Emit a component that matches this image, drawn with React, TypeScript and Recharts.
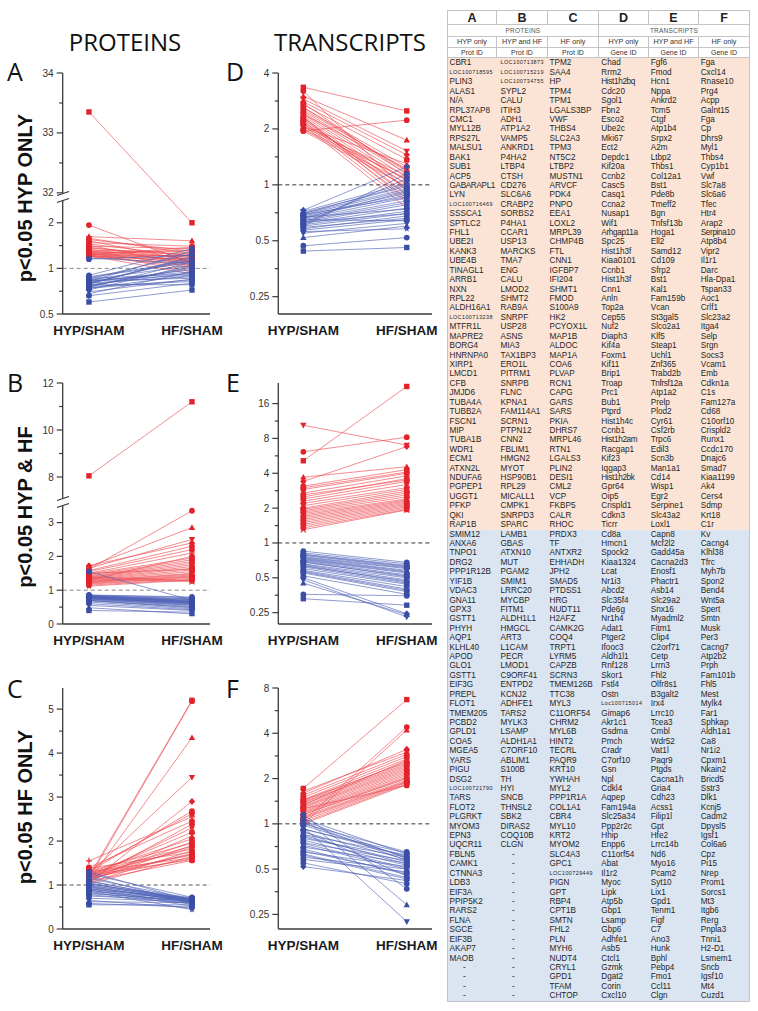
import React from 'react'
import { LineChart, Line, XAxis, YAxis, ReferenceLine } from 'recharts'

const xCategories = ['HYP/SHAM', 'HF/SHAM']

// A: proteins, p<0.05 HYP only
const aUpHyp = [33.35, 1.93, 1.62, 1.58, 1.55, 1.52, 1.48, 1.45, 1.42, 1.40, 1.38, 1.36, 1.34, 1.32, 1.30, 1.30, 1.29, 1.28, 1.27, 1.26, 1.25, 1.25, 1.24, 1.23, 1.22, 1.22, 1.21, 1.20, 1.20, 1.19]
const aUpHf = [2.0, 1.08, 1.52, 1.25, 1.30, 1.12, 1.40, 1.20, 1.05, 1.35, 1.15, 1.22, 1.10, 1.28, 1.18, 1.02, 1.25, 1.12, 0.95, 1.32, 1.08, 1.20, 1.15, 1.00, 1.38, 1.10, 0.92, 1.22, 1.05, 1.15]
const aDownHyp = [0.60, 0.66, 0.68, 0.70, 0.72, 0.74, 0.75, 0.76, 0.77, 0.78, 0.79, 0.80, 0.80, 0.81, 0.82, 0.83, 0.84, 0.85, 0.86, 0.88, 0.90, 0.78, 0.76, 0.82, 1.15, 1.17, 0.74, 0.79, 0.84, 0.87]
const aDownHf = [0.72, 0.80, 0.95, 0.85, 1.05, 0.90, 1.10, 0.82, 1.00, 0.93, 1.20, 0.88, 1.15, 0.98, 1.30, 0.86, 1.05, 1.25, 0.92, 1.12, 1.35, 0.78, 1.02, 0.95, 1.22, 1.08, 0.84, 1.18, 0.90, 1.10]
const aMajor = [0.5, 1, 2, 32, 33, 34]
const aMinor = [0.707, 1.414, 32.5, 33.5]

// B: proteins, p<0.05 HYP & HF
const bUpHyp = [8.05, 1.62, 1.70, 1.65, 1.72, 1.58, 1.55, 1.50, 1.48, 1.45, 1.42, 1.40, 1.38, 1.36, 1.34, 1.32, 1.30, 1.28, 1.26, 1.25, 1.24, 1.22, 1.20, 1.18, 1.15, 1.12, 1.40, 1.35, 1.30, 1.50]
const bUpHf = [11.2, 3.35, 2.85, 2.50, 2.40, 2.30, 2.20, 2.10, 1.95, 1.90, 1.85, 1.80, 1.75, 1.70, 1.65, 1.60, 1.55, 1.50, 1.48, 1.45, 1.42, 1.40, 1.38, 1.35, 1.32, 1.30, 1.28, 1.25, 2.00, 1.62]
const bDownHyp = [0.40, 1.55, 0.48, 0.55, 0.60, 0.65, 0.68, 0.70, 0.72, 0.74, 0.75, 0.76, 0.77, 0.78, 0.79, 0.80, 0.80, 0.81, 0.82, 0.82, 0.83, 0.84, 0.85, 0.86, 0.78, 0.74, 0.70, 0.80, 0.83, 0.76]
const bDownHf = [0.35, 0.70, 0.30, 0.40, 0.42, 0.45, 0.50, 0.52, 0.55, 0.58, 0.60, 0.62, 0.63, 0.64, 0.65, 0.66, 0.67, 0.68, 0.70, 0.72, 0.74, 0.75, 0.78, 0.80, 0.60, 0.56, 0.48, 0.70, 0.66, 0.62]
const bMajor = [0, 1, 2, 3, 8, 10, 12]
const bMinor = [0.5, 1.5, 2.5, 9, 11]

// C: proteins, p<0.05 HF only
const cUpHyp = [1.20, 1.15, 1.10, 1.25, 1.05, 1.30, 1.35, 1.55, 1.40, 1.12, 1.18, 1.22, 1.08, 1.28, 1.15, 1.32, 1.10, 1.20, 1.25, 1.05, 1.38, 1.14, 1.18, 1.24, 1.02, 1.30, 1.16, 1.22, 1.09, 1.27]
const cUpHf = [5.20, 5.18, 4.35, 3.45, 2.90, 2.68, 2.62, 2.55, 2.45, 2.38, 2.30, 2.20, 2.12, 2.05, 1.98, 1.95, 1.90, 1.85, 1.82, 1.78, 1.75, 1.72, 1.70, 1.68, 1.65, 1.62, 1.60, 1.58, 1.56, 1.88]
const cDownHyp = [0.55, 0.58, 0.62, 0.65, 0.70, 0.75, 0.78, 0.80, 0.82, 0.85, 0.88, 0.90, 0.92, 0.94, 0.96, 0.98, 1.00, 1.02, 1.05, 1.08, 1.10, 1.15, 1.20, 1.25, 1.30, 0.86, 0.92, 0.97, 1.03, 0.89]
const cDownHf = [0.55, 0.50, 0.60, 0.48, 0.62, 0.65, 0.58, 0.66, 0.63, 0.68, 0.60, 0.70, 0.64, 0.67, 0.62, 0.69, 0.65, 0.71, 0.60, 0.66, 0.63, 0.68, 0.58, 0.72, 0.64, 0.44, 0.56, 0.61, 0.67, 0.52]
const cMajor = [0, 1, 2, 3, 4, 5]
const cMinor = [0.5, 1.5, 2.5, 3.5, 4.5]

// D: transcripts, p<0.05 HYP only
const dUpHyp = [3.35, 1.95, 3.00, 2.90, 2.80, 2.70, 2.60, 2.55, 2.50, 2.45, 2.40, 2.35, 2.30, 2.25, 2.20, 2.15, 2.10, 2.05, 2.00, 1.98, 1.95, 3.20, 2.62, 2.28, 2.12, 2.40, 2.18, 2.06, 2.75, 2.32]
const dUpHf = [2.50, 2.23, 1.74, 1.52, 1.45, 1.37, 1.25, 1.20, 1.15, 1.10, 1.05, 1.00, 0.95, 0.90, 0.85, 0.80, 0.75, 1.12, 1.08, 1.02, 0.98, 0.92, 1.18, 0.88, 1.06, 1.22, 0.96, 1.30, 1.14, 0.82]
const dDownHyp = [0.44, 0.47, 0.52, 0.55, 0.57, 0.58, 0.60, 0.61, 0.62, 0.63, 0.64, 0.65, 0.66, 0.67, 0.68, 0.69, 0.70, 0.71, 0.72, 0.73, 0.60, 0.62, 0.65, 0.67, 0.69, 0.56, 0.63, 0.66, 0.70, 0.59]
const dDownHf = [0.46, 0.52, 0.60, 0.62, 0.65, 0.68, 0.70, 0.72, 0.75, 0.78, 0.80, 0.82, 0.85, 0.88, 0.90, 0.93, 0.95, 0.98, 1.02, 1.25, 1.15, 1.08, 0.64, 0.74, 0.86, 0.58, 0.70, 0.92, 1.00, 0.66]
const dMajor = [0.25, 0.5, 1, 2, 4]
const dMinor = [0.354, 0.707, 1.414, 2.828]

// E: transcripts, p<0.05 HYP & HF
const eUpHyp = [5.13, 6.13, 3.70, 10.4, 3.40, 3.10, 2.90, 2.70, 2.50, 2.40, 2.30, 2.20, 2.10, 2.00, 1.95, 1.90, 1.85, 1.80, 1.75, 1.70, 1.65, 1.60, 1.55, 1.50, 1.45, 1.40, 1.35, 1.30, 2.60, 3.00]
const eUpHf = [22.5, 8.2, 4.56, 7.0, 6.8, 4.30, 4.00, 3.80, 3.60, 3.40, 3.20, 3.00, 2.90, 2.80, 2.70, 2.60, 2.50, 2.40, 2.35, 2.30, 2.25, 2.20, 2.15, 2.10, 2.05, 2.00, 1.95, 1.93, 3.50, 4.10]
const eDownHyp = [0.33, 0.36, 0.45, 0.48, 0.50, 0.52, 0.55, 0.57, 0.58, 0.60, 0.62, 0.63, 0.65, 0.66, 0.68, 0.70, 0.71, 0.72, 0.74, 0.75, 0.76, 0.78, 0.80, 0.82, 0.85, 0.64, 0.69, 0.73, 0.56, 0.79]
const eDownHf = [0.29, 0.35, 0.24, 0.23, 0.245, 0.36, 0.38, 0.40, 0.42, 0.44, 0.45, 0.47, 0.48, 0.50, 0.52, 0.53, 0.55, 0.56, 0.58, 0.60, 0.61, 0.62, 0.64, 0.66, 0.68, 0.46, 0.51, 0.57, 0.39, 0.63]
const eMajor = [0.25, 0.5, 1, 2, 4, 8, 16]
const eMinor = [0.354, 0.707, 1.414, 2.828, 5.657, 11.31]

// F: transcripts, p<0.05 HF only
const fUpHyp = [1.72, 1.05, 1.00, 1.65, 1.60, 1.55, 1.50, 1.45, 1.42, 1.40, 1.38, 1.35, 1.32, 1.30, 1.28, 1.25, 1.22, 1.20, 1.18, 1.15, 1.12, 1.10, 1.08, 1.05, 1.02, 1.00, 1.26, 1.34, 1.44, 1.16]
const fUpHf = [6.70, 4.40, 4.20, 3.00, 3.13, 2.90, 2.80, 2.70, 2.60, 2.50, 2.45, 2.40, 2.35, 2.30, 2.25, 2.20, 2.15, 2.10, 2.05, 2.00, 1.95, 1.92, 1.90, 1.88, 1.85, 1.82, 1.80, 2.65, 2.55, 2.02]
const fDownHyp = [0.90, 1.15, 1.10, 0.95, 0.52, 0.55, 0.58, 0.60, 0.63, 0.65, 0.68, 0.70, 0.72, 0.75, 0.78, 0.80, 0.82, 0.85, 0.88, 0.92, 0.98, 1.00, 1.05, 1.08, 0.66, 0.74, 0.84, 0.93, 1.02, 0.62]
const fDownHf = [0.45, 0.37, 0.29, 0.224, 0.42, 0.40, 0.48, 0.50, 0.44, 0.52, 0.46, 0.55, 0.50, 0.57, 0.53, 0.60, 0.56, 0.62, 0.58, 0.64, 0.60, 0.65, 0.59, 0.63, 0.47, 0.51, 0.54, 0.61, 0.57, 0.43]
const fMajor = [0.25, 0.5, 1, 2, 4, 8]
const fMinor = [0.354, 0.707, 1.414, 2.828, 5.657]

// table columns (upper half = up-regulated, lower half = down-regulated)
const protHypUp = ['CBR1', 'LOC100718595', 'PLIN3', 'ALAS1', 'N/A', 'RPL37AP8', 'CMC1', 'MYL12B', 'RPS27L', 'MALSU1', 'BAK1', 'SUB1', 'ACP5', 'GABARAPL1', 'LYN', 'LOC100716469', 'SSSCA1', 'SPTLC2', 'FHL1', 'UBE2I', 'KANK3', 'UBE4B', 'TINAGL1', 'ARRB1', 'NXN', 'RPL22', 'ALDH16A1', 'LOC100713238', 'MTFR1L', 'MAPRE2', 'BORG4', 'HNRNPA0', 'XIRP1', 'LMCD1', 'CFB', 'JMJD6', 'TUBA4A', 'TUBB2A', 'FSCN1', 'MIP', 'TUBA1B', 'WDR1', 'ECM1', 'ATXN2L', 'NDUFA6', 'PGPEP1', 'UGGT1', 'PFKP', 'QKI', 'RAP1B']
const protHypDown = ['SMIM12', 'ANXA6', 'TNPO1', 'DRG2', 'PPP1R12B', 'YIF1B', 'VDAC3', 'GNA11', 'GPX3', 'GSTT1', 'PHYH', 'AQP1', 'KLHL40', 'APOD', 'GLO1', 'GSTT1', 'EIF3G', 'PREPL', 'FLOT1', 'TMEM205', 'PCBD2', 'GPLD1', 'COA5', 'MGEA5', 'YARS', 'PIGU', 'DSG2', 'LOC100721790', 'TARS', 'FLOT2', 'PLGRKT', 'MYOM3', 'EPN3', 'UQCR11', 'FBLN5', 'CAMK1', 'CTNNA3', 'LDB3', 'EIF3A', 'PPIP5K2', 'RARS2', 'FLNA', 'SGCE', 'EIF3B', 'AKAP7', 'MAOB', '-', '-', '-', '-']
const protBothUp = ['LOC100713873', 'LOC100715219', 'LOC100734755', 'SYPL2', 'CALU', 'ITIH3', 'ADH1', 'ATP1A2', 'VAMP5', 'ANKRD1', 'P4HA2', 'LTBP4', 'CTSH', 'CD276', 'SLC6A6', 'CRABP2', 'SORBS2', 'P4HA1', 'CCAR1', 'USP13', 'MARCKS', 'TMA7', 'ENG', 'CALU', 'LMOD2', 'SHMT2', 'RAB9A', 'SNRPF', 'USP28', 'ASNS', 'MIA3', 'TAX1BP3', 'ERO1L', 'PITRM1', 'SNRPB', 'FLNC', 'KPNA1', 'FAM114A1', 'SCRN1', 'PTPN12', 'CNN2', 'FBLIM1', 'HMGN2', 'MYOT', 'HSP90B1', 'RPL29', 'MICALL1', 'CMPK1', 'SNRPD3', 'SPARC']
const protBothDown = ['LAMB1', 'GBAS', 'ATXN10', 'MUT', 'PGAM2', 'SMIM1', 'LRRC20', 'MYCBP', 'FITM1', 'ALDH1L1', 'HMGCL', 'ART3', 'L1CAM', 'PECR', 'LMOD1', 'C9ORF41', 'ENTPD2', 'KCNJ2', 'ADHFE1', 'TARS2', 'MYLK3', 'LSAMP', 'ALDH1A1', 'C7ORF10', 'ABLIM1', 'S100B', 'TH', 'HYI', 'SNCB', 'THNSL2', 'SBK2', 'DIRAS2', 'COQ10B', 'CLGN', '-', '-', '-', '-', '-', '-', '-', '-', '-', '-', '-', '-', '-', '-', '-', '-']
const protHfUp = ['TPM2', 'SAA4', 'HP', 'TPM4', 'TPM1', 'LGALS3BP', 'VWF', 'THBS4', 'SLC2A3', 'TPM3', 'NT5C2', 'LTBP2', 'MUSTN1', 'ARVCF', 'PDK4', 'PNPO', 'EEA1', 'LOXL2', 'MRPL39', 'CHMP4B', 'FTL', 'CNN1', 'IGFBP7', 'IFI204', 'SHMT1', 'FMOD', 'S100A9', 'HK2', 'PCYOX1L', 'MAP1B', 'ALDOC', 'MAP1A', 'COA6', 'PLVAP', 'RCN1', 'CAPG', 'GARS', 'SARS', 'PKIA', 'DHRS7', 'MRPL46', 'RTN1', 'LGALS3', 'PLIN2', 'DESI1', 'CML2', 'VCP', 'FKBP5', 'CALR', 'RHOC']
const protHfDown = ['PRDX3', 'TF', 'ANTXR2', 'EHHADH', 'JPH2', 'SMAD5', 'PTDSS1', 'HRG', 'NUDT11', 'H2AFZ', 'CAMK2G', 'COQ4', 'TRPT1', 'LYRM5', 'CAPZB', 'SCRN3', 'TMEM126B', 'TTC38', 'MYL3', 'C11ORF54', 'CHRM2', 'MYL6B', 'HINT2', 'TECRL', 'PAQR9', 'KRT10', 'YWHAH', 'MYL2', 'PPP1R1A', 'COL1A1', 'CBR4', 'MYL10', 'KRT2', 'MYOM2', 'SLC4A3', 'GPC1', 'LOC100729449', 'PIGN', 'GPT', 'RBP4', 'CPT1B', 'SMTN', 'FHL2', 'PLN', 'MYH6', 'NUDT4', 'CRYL1', 'GPD1', 'TFAM', 'CHTOP']
const geneHypUp = ['Chad', 'Rrm2', 'Hist1h2bq', 'Cdc20', 'Sgol1', 'Fbn2', 'Esco2', 'Ube2c', 'Mki67', 'Ect2', 'Depdc1', 'Kif20a', 'Ccnb2', 'Casc5', 'Casq1', 'Ccna2', 'Nusap1', 'Wif1', 'Arhgap11a', 'Spc25', 'Hist1h3f', 'Kiaa0101', 'Ccnb1', 'Hist1h3f', 'Cnn1', 'Anln', 'Top2a', 'Cep55', 'Nuf2', 'Diaph3', 'Kif4a', 'Foxm1', 'Kif11', 'Brip1', 'Troap', 'Prc1', 'Bub1', 'Ptprd', 'Hist1h4c', 'Ccnb1', 'Hist1h2am', 'Racgap1', 'Kif23', 'Iqgap3', 'Hist1h2bk', 'Gpr64', 'Oip5', 'Crispld1', 'Cdkn3', 'Ticrr']
const geneHypDown = ['Cd8a', 'Hmcn1', 'Spock2', 'Kiaa1324', 'Lcat', 'Nr1i3', 'Abcd2', 'Slc35f4', 'Pde6g', 'Nr1h4', 'Adat1', 'Ptger2', 'Ifooc3', 'Aldh1l1', 'Rnf128', 'Skor1', 'Fstl4', 'Ostn', 'Loc100715014', 'Gimap6', 'Akr1c1', 'Gsdma', 'Pmch', 'Cradr', 'C7orf10', 'Gsn', 'Npl', 'Cdkl4', 'Aqpep', 'Fam194a', 'Slc25a34', 'Ppp2r2c', 'Hhip', 'Enpp6', 'C11orf54', 'Abat', 'Il1r2', 'Myoc', 'Lipk', 'Atp5b', 'Gbp1', 'Lsamp', 'Gbp6', 'Adhfe1', 'Asb5', 'Ctcl1', 'Gzmk', 'Dgat2', 'Corin', 'Cxcl10']
const geneBothUp = ['Fgf6', 'Fmod', 'Hcn1', 'Nppa', 'Ankrd2', 'Tcm5', 'Ctgf', 'Atp1b4', 'Srpx2', 'A2m', 'Ltbp2', 'Thbs1', 'Col12a1', 'Bst1', 'Pde8b', 'Tmeff2', 'Bgn', 'Tnfsf13b', 'Hoga1', 'Ell2', 'Samd12', 'Cd109', 'Sfrp2', 'Bst1', 'Kal1', 'Fam159b', 'Vcan', 'St3gal5', 'Slco2a1', 'Klf5', 'Steap1', 'Uchl1', 'Znf365', 'Trabd2b', 'Tnfrsf12a', 'Atp1a2', 'Prelp', 'Plod2', 'Cyr61', 'Csf2rb', 'Trpc6', 'Edil3', 'Scn3b', 'Man1a1', 'Cd14', 'Wisp1', 'Egr2', 'Serpine1', 'Slc43a2', 'Loxl1']
const geneBothDown = ['Capn8', 'Mcf2l2', 'Gadd45a', 'Cacna2d3', 'Enosf1', 'Phactr1', 'Asb14', 'Slc29a2', 'Snx16', 'Myadml2', 'Fitm1', 'Clip4', 'C2orf71', 'Cetp', 'Lrrn3', 'Fhl2', 'Olfr8s1', 'B3galt2', 'Irx4', 'Lrrc10', 'Tcea3', 'Cmbl', 'Wdr52', 'Vat1l', 'Paqr9', 'Ptgds', 'Cacna1h', 'Gria4', 'Cdh23', 'Acss1', 'Filip1l', 'Gpt', 'Hfe2', 'Lrrc14b', 'Nd6', 'Myo16', 'Pcam2', 'Syt10', 'Lix1', 'Gpd1', 'Tenm1', 'Figf', 'C7', 'Ano3', 'Hunk', 'Bphl', 'Pebp4', 'Fmo1', 'Ccl11', 'Clgn']
const geneHfUp = ['Fga', 'Cxcl14', 'Rnase10', 'Prg4', 'Acpp', 'Galnt15', 'Fga', 'Cp', 'Dhrs9', 'Myl1', 'Thbs4', 'Cyp1b1', 'Vwf', 'Slc7a8', 'Slc6a6', 'Tfec', 'Htr4', 'Arap2', 'Serpina10', 'Atp8b4', 'Vipr2', 'Il1r1', 'Darc', 'Hla-Dpa1', 'Tspan33', 'Aoc1', 'Crlf1', 'Slc23a2', 'Itga4', 'Selp', 'Srgn', 'Socs3', 'Vcam1', 'Emb', 'Cdkn1a', 'C1s', 'Fam127a', 'Cd68', 'C10orf10', 'Crispld2', 'Runx1', 'Ccdc170', 'Dnajc6', 'Smad7', 'Kiaa1199', 'Ak4', 'Cers4', 'Sdmp', 'Krt18', 'C1r']
const geneHfDown = ['Kv', 'Cacng4', 'Klhl38', 'Tfrc', 'Myh7b', 'Spon2', 'Bend4', 'Wnt5a', 'Spert', 'Smtn', 'Musk', 'Per3', 'Cacng7', 'Atp2b2', 'Prph', 'Fam101b', 'Fhl5', 'Mest', 'Mylk4', 'Far1', 'Sphkap', 'Aldh1a1', 'Ca8', 'Nr1i2', 'Cpxm1', 'Nkain2', 'Bricd5', 'Sstr3', 'Dlk1', 'Kcnj5', 'Cadm2', 'Dpysl5', 'Igsf1', 'Col6a6', 'Cpz', 'Pi15', 'Nrep', 'Prom1', 'Sorcs1', 'Mt3', 'Itgb6', 'Rerg', 'Pnpla3', 'Tnni1', 'H2-D1', 'Lsmem1', 'Sncb', 'Igsf10', 'Mt4', 'Cuzd1']

const RED = '#e2232b'
const RED_LINE = '#ee4a51'
const BLUE = '#3a4ea6'
const BLUE_LINE = '#4f61b7'
const AXIS = '#3a3a3a'
const markerCycle = ['square', 'circle', 'triangle', 'triangleDown', 'diamond', 'circle', 'circle', 'cross', 'circle', 'circle', 'star', 'circle', 'x', 'circle', 'circle']

// broken axes: px-like units, log2 below / linear above the break
const brokenA = (v: number) => (v < 10 ? 45.67 * Math.log2(v / 0.5) : 121.3 + 60 * (v - 32))
const brokenB = (v: number) => (v < 5 ? 33.8 * v : 147 + 23.5 * (v - 8))
const same = (v: number) => v

function Marker({ cx, cy, shape, color }: { cx: number; cy: number; shape: string; color: string }) {
  if (cx == null || cy == null) return <g />
  const s = 2.7
  if (shape === 'square') return <rect x={cx - s} y={cy - s} width={s * 2} height={s * 2} fill={color} />
  if (shape === 'triangle')
    return <polygon points={`${cx},${cy - 3.3} ${cx - 3.2},${cy + 2.4} ${cx + 3.2},${cy + 2.4}`} fill={color} />
  if (shape === 'triangleDown')
    return <polygon points={`${cx},${cy + 3.3} ${cx - 3.2},${cy - 2.4} ${cx + 3.2},${cy - 2.4}`} fill={color} />
  if (shape === 'diamond')
    return <polygon points={`${cx},${cy - 3.5} ${cx + 3.2},${cy} ${cx},${cy + 3.5} ${cx - 3.2},${cy}`} fill={color} />
  if (shape === 'cross')
    return (
      <path d={`M${cx - 3},${cy}H${cx + 3}M${cx},${cy - 3}V${cy + 3}`} stroke={color} strokeWidth={1.2} />
    )
  if (shape === 'x')
    return (
      <path d={`M${cx - 2.6},${cy - 2.6}L${cx + 2.6},${cy + 2.6}M${cx - 2.6},${cy + 2.6}L${cx + 2.6},${cy - 2.6}`} stroke={color} strokeWidth={1.2} />
    )
  if (shape === 'star') {
    const pts = []
    for (let k = 0; k < 10; k++) {
      const r = k % 2 === 0 ? 3.6 : 1.5
      const a = -Math.PI / 2 + (k * Math.PI) / 5
      pts.push(`${cx + r * Math.cos(a)},${cy + r * Math.sin(a)}`)
    }
    return <polygon points={pts.join(' ')} fill={color} />
  }
  return <circle cx={cx} cy={cy} r={2.9} fill={color} />
}

type PanelProps = {
  left: number
  top: number
  axisW: number
  plotW: number
  xDomain: [number, number]
  upHyp: number[]
  upHf: number[]
  downHyp: number[]
  downHf: number[]
  f: (v: number) => number
  yDomain: [number, number]
  scale: 'linear' | 'log'
  major: number[]
  minor: number[]
  refColor: string
}

const PLOT_H = 241
const TOP_PAD = 10
const RIGHT_PAD = 24

function Panel(p: PanelProps) {
  const rows = [0, 1].map((x) => {
    const r: Record<string, number> = { x }
    p.upHyp.forEach((v, i) => {
      r['u' + i] = p.f(x === 0 ? v : p.upHf[i])
    })
    p.downHyp.forEach((v, i) => {
      r['d' + i] = p.f(x === 0 ? v : p.downHf[i])
    })
    return r
  })
  const ticks = [...p.major, ...p.minor].map(p.f)
  const yTick = (t: any) => {
    const v = t.payload.value
    const m = p.major.find((k) => Math.abs(p.f(k) - v) < 1e-6)
    const isMajor = m !== undefined
    return (
      <g>
        <line x1={p.axisW - (isMajor ? 6 : 3.5)} x2={p.axisW} y1={t.y} y2={t.y} stroke={AXIS} strokeWidth={1.2} />
        {isMajor && (
          <text x={p.axisW - 9} y={t.y} dy="0.35em" textAnchor="end" fontSize={10} fill="#333" fontFamily="Arial, 'Liberation Sans', sans-serif">
            {m}
          </text>
        )}
      </g>
    )
  }
  const xTick = (t: any) => (
    <text x={t.x} y={TOP_PAD + PLOT_H + 21} textAnchor="middle" fontSize={13.5} fontWeight={700} fill="#1a1a1a" fontFamily="Arial, 'Liberation Sans', sans-serif">
      {xCategories[t.payload.value]}
    </text>
  )
  const dotFn = (i: number, color: string, pre: string) => (d: any) => (
    <Marker key={`${pre}${i}-${d.index}`} cx={d.cx} cy={d.cy} shape={markerCycle[i % markerCycle.length]} color={color} />
  )
  return (
    <div style={{ position: 'absolute', left: p.left, top: p.top - TOP_PAD }}>
      <LineChart
        width={p.axisW + p.plotW + RIGHT_PAD}
        height={TOP_PAD + PLOT_H + 30}
        data={rows}
        margin={{ top: TOP_PAD, right: RIGHT_PAD, bottom: 0, left: 0 }}
      >
        <XAxis
          type="number"
          dataKey="x"
          domain={p.xDomain}
          ticks={[0, 1]}
          interval={0}
          allowDataOverflow
          height={30}
          tickLine={false}
          axisLine={{ stroke: AXIS, strokeWidth: 1.3 }}
          tick={xTick}
        />
        <YAxis
          type="number"
          scale={p.scale}
          domain={p.yDomain}
          allowDataOverflow
          ticks={ticks}
          interval={0}
          width={p.axisW}
          tickLine={false}
          axisLine={{ stroke: AXIS, strokeWidth: 1.3 }}
          tick={yTick}
        />
        <ReferenceLine y={p.f(1)} stroke={p.refColor} strokeDasharray="4 3" strokeWidth={1} />
        {p.upHyp.map((_, i) => (
          <Line
            key={'u' + i}
            dataKey={'u' + i}
            stroke={RED_LINE}
            strokeWidth={0.8}
            strokeOpacity={0.8}
            dot={dotFn(i, RED, 'u')}
            activeDot={false}
            isAnimationActive={false}
          />
        ))}
        {p.downHyp.map((_, i) => (
          <Line
            key={'d' + i}
            dataKey={'d' + i}
            stroke={BLUE_LINE}
            strokeWidth={0.8}
            strokeOpacity={0.8}
            dot={dotFn(i, BLUE, 'd')}
            activeDot={false}
            isAnimationActive={false}
          />
        ))}
      </LineChart>
    </div>
  )
}

function AxisBreak({ x, y }: { x: number; y: number }) {
  return (
    <svg style={{ position: 'absolute', left: x - 7, top: y - 7 }} width={14} height={14}>
      <rect x={4} y={3.5} width={6} height={7} fill="#fff" />
      <line x1={1} y1={5.5} x2={13} y2={1.5} stroke="#333" strokeWidth={1.2} />
      <line x1={1} y1={12.5} x2={13} y2={8.5} stroke="#333" strokeWidth={1.2} />
    </svg>
  )
}

const sans = "Arial, 'Liberation Sans', sans-serif"
const light = "'Open Sans', 'Noto Sans', sans-serif"

function Label({ x, y, text }: { x: number; y: number; text: string }) {
  return (
    <div
      style={{
        position: 'absolute',
        left: x,
        top: y,
        transform: 'translate(-50%, -50%) rotate(-90deg)',
        whiteSpace: 'nowrap',
        fontFamily: sans,
        fontWeight: 700,
        fontSize: 20,
        color: '#111',
      }}
    >
      {text}
    </div>
  )
}

function Text({ x, y, text, size, anchor = 'left' }: { x: number; y: number; text: string; size: number; anchor?: string }) {
  return (
    <div
      style={{
        position: 'absolute',
        left: x,
        top: y,
        transform: anchor === 'center' ? 'translate(-50%, -50%)' : 'translate(0, -50%)',
        whiteSpace: 'nowrap',
        fontFamily: light,
        fontSize: size,
        color: '#111',
        lineHeight: 1,
      }}
    >
      {text}
    </div>
  )
}

const tableCols = [
  { letter: 'A', sub: 'HYP only', id: 'Prot ID', up: protHypUp, down: protHypDown, w: 49, pad: 1.5 },
  { letter: 'B', sub: 'HYP and HF', id: 'Prot ID', up: protBothUp, down: protBothDown, w: 51, pad: 3.5 },
  { letter: 'C', sub: 'HF only', id: 'Prot ID', up: protHfUp, down: protHfDown, w: 51, pad: 1.5 },
  { letter: 'D', sub: 'HYP only', id: 'Gene ID', up: geneHypUp, down: geneHypDown, w: 50, pad: 2.3 },
  { letter: 'E', sub: 'HYP and HF', id: 'Gene ID', up: geneBothUp, down: geneBothDown, w: 50, pad: 1.7 },
  { letter: 'F', sub: 'HF only', id: 'Gene ID', up: geneHfUp, down: geneHfDown, w: 50, pad: 1.7 },
]

const BORDER = '1px solid #c4c4c4'
const ROW_H = 9.435

function GeneTable() {
  const headCell = (w: number, h: number, content: React.ReactNode, style: React.CSSProperties, last: boolean) => (
    <div
      style={{
        width: w,
        height: h,
        boxSizing: 'border-box',
        borderRight: last ? 'none' : BORDER,
        borderBottom: BORDER,
        display: 'flex',
        alignItems: 'center',
        justifyContent: 'center',
        fontFamily: sans,
        color: '#333',
        ...style,
      }}
    >
      {content}
    </div>
  )
  const rowsN = tableCols[0].up.length + tableCols[0].down.length
  return (
    <div style={{ position: 'absolute', left: 447, top: 10, width: 301, border: BORDER, boxSizing: 'content-box' }}>
      <div style={{ display: 'flex' }}>
        {tableCols.map((c, i) => headCell(c.w, 14.3, c.letter, { fontWeight: 700, fontSize: 12.5, color: '#222' }, i === 5))}
      </div>
      <div style={{ display: 'flex' }}>
        {headCell(151, 11.7, 'PROTEINS', { fontSize: 6.5, color: '#555', letterSpacing: 0.2 }, false)}
        {headCell(150, 11.7, 'TRANSCRIPTS', { fontSize: 6.5, color: '#555', letterSpacing: 0.2 }, true)}
      </div>
      <div style={{ display: 'flex' }}>
        {tableCols.map((c, i) => headCell(c.w, 10.7, c.sub, { fontSize: 7.2 }, i === 5))}
      </div>
      <div style={{ display: 'flex' }}>
        {tableCols.map((c, i) => headCell(c.w, 10.8, c.id, { fontSize: 7 }, i === 5))}
      </div>
      {Array.from({ length: rowsN }, (_, r) => {
        const upper = r < tableCols[0].up.length
        return (
          <div key={r} style={{ display: 'flex', height: ROW_H, background: upper ? '#fbe4d5' : '#dbe4f1' }}>
            {tableCols.map((c) => {
              const v = upper ? c.up[r] : c.down[r - c.up.length]
              const small = /^loc/i.test(v)
              const long = !small && v.length >= 9
              return (
                <div
                  key={c.letter}
                  style={{
                    width: c.w,
                    height: ROW_H,
                    lineHeight: `${ROW_H}px`,
                    paddingLeft: v === '-' ? 15 : c.pad,
                    boxSizing: 'border-box',
                    fontFamily: sans,
                    fontSize: small ? 5.4 : 8.2,
                    letterSpacing: small ? 0.45 : long ? -0.35 : 0,
                    color: '#262626',
                    whiteSpace: 'nowrap',
                  }}
                >
                  {v}
                </div>
              )
            })}
          </div>
        )
      })}
    </div>
  )
}

export default function App() {
  const leftCol = { left: 0, axisW: 62.7, plotW: 147.3, xDomain: [-0.255, 1.175] as [number, number] }
  const rightCol = { left: 210, axisW: 68.3, plotW: 153.7, xDomain: [-0.242, 1.244] as [number, number] }
  return (
    <div style={{ position: 'absolute', left: 0, top: 0, width: 758, height: 1011, background: '#fff', overflow: 'hidden' }}>
      <Text x={125} y={42} text="PROTEINS" size={24} anchor="center" />
      <Text x={350} y={42} text="TRANSCRIPTS" size={24} anchor="center" />
      <Text x={7} y={71} text="A" size={25} />
      <Text x={226} y={71} text="D" size={25} />
      <Text x={7} y={382} text="B" size={25} />
      <Text x={226} y={382} text="E" size={25} />
      <Text x={7} y={688} text="C" size={25} />
      <Text x={226} y={688} text="F" size={25} />
      <Label x={25} y={198} text="p<0.05 HYP ONLY" />
      <Label x={25} y={507} text="p<0.05 HYP & HF" />
      <Label x={25} y={807} text="p<0.05 HF ONLY" />

      <Panel {...leftCol} top={72.7} upHyp={aUpHyp} upHf={aUpHf} downHyp={aDownHyp} downHf={aDownHf} f={brokenA} yDomain={[0, 241.3]} scale="linear" major={aMajor} minor={aMinor} refColor="#888" />
      <Panel {...leftCol} top={382.7} upHyp={bUpHyp} upHf={bUpHf} downHyp={bDownHyp} downHf={bDownHf} f={brokenB} yDomain={[0, 241]} scale="linear" major={bMajor} minor={bMinor} refColor="#888" />
      <Panel {...leftCol} top={688.3} upHyp={cUpHyp} upHf={cUpHf} downHyp={cDownHyp} downHf={cDownHf} f={same} yDomain={[0, 5.48]} scale="linear" major={cMajor} minor={cMinor} refColor="#555" />
      <Panel {...rightCol} top={72.7} upHyp={dUpHyp} upHf={dUpHf} downHyp={dDownHyp} downHf={dDownHf} f={same} yDomain={[0.2017, 4]} scale="log" major={dMajor} minor={dMinor} refColor="#333" />
      <Panel {...rightCol} top={382.7} upHyp={eUpHyp} upHf={eUpHf} downHyp={eDownHyp} downHf={eDownHf} f={same} yDomain={[0.1995, 24.1]} scale="log" major={eMajor} minor={eMinor} refColor="#333" />
      <Panel {...rightCol} top={688.3} upHyp={fUpHyp} upHf={fUpHf} downHyp={fDownHyp} downHf={fDownHf} f={same} yDomain={[0.2, 8]} scale="log" major={fMajor} minor={fMinor} refColor="#333" />

      <AxisBreak x={62.7} y={196.5} />
      <AxisBreak x={62.7} y={502} />

      <GeneTable />
    </div>
  )
}
